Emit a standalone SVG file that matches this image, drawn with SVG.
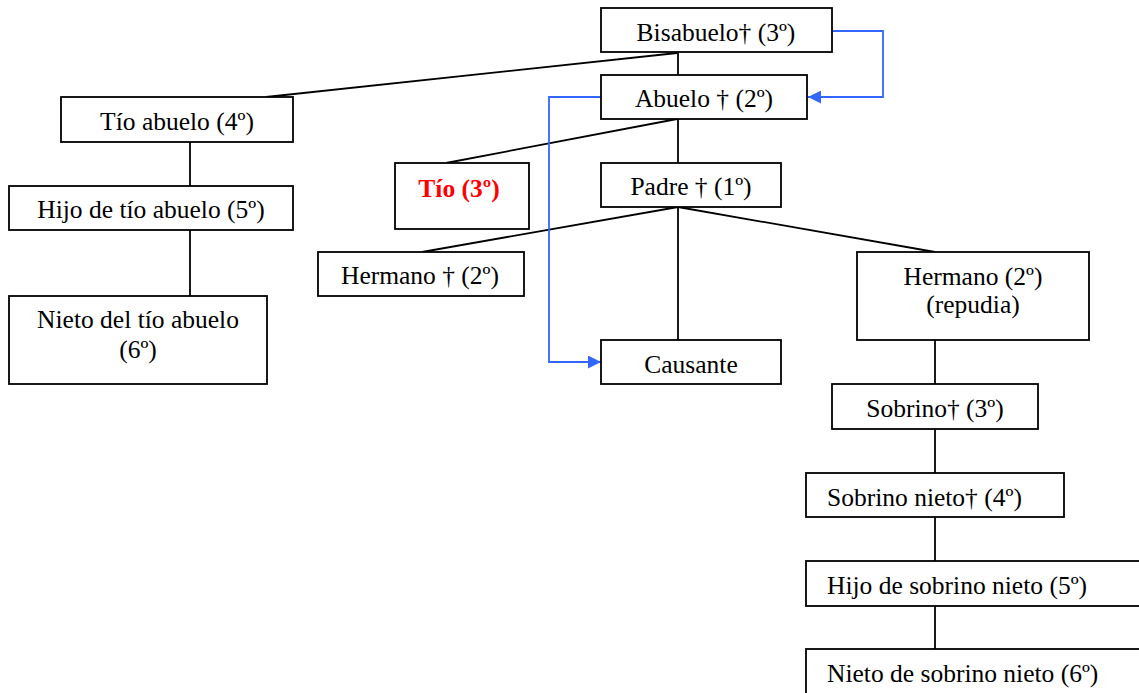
<svg xmlns="http://www.w3.org/2000/svg" width="1139" height="693" viewBox="0 0 1139 693">
<defs>
<style>
.box{fill:#fff;stroke:#000;stroke-width:1.8}
.t{font-family:"Liberation Serif","Times New Roman",serif;font-size:25.5px;fill:#000;text-anchor:middle}
.s{text-anchor:start}
.red{fill:#ff0000;font-weight:bold}
.ln{stroke:#000;stroke-width:1.8;fill:none}
.bl{stroke:#3366ff;stroke-width:1.8;fill:none}
</style>
<marker id="ah" viewBox="0 0 10 10" refX="10" refY="5" markerWidth="15" markerHeight="13" markerUnits="userSpaceOnUse" orient="auto">
<path d="M0,0 L10,5 L0,10 Z" fill="#3366ff"/>
</marker>
</defs>
<rect width="1139" height="693" fill="#fff"/>
<g id="connectors">
<line class="ln" x1="678" y1="52" x2="678" y2="75"/>
<line class="ln" x1="678" y1="119" x2="678" y2="163"/>
<line class="ln" x1="677" y1="53" x2="266" y2="97"/>
<line class="ln" x1="190" y1="142" x2="190" y2="186"/>
<line class="ln" x1="190" y1="230" x2="190" y2="296"/>
<line class="ln" x1="677" y1="119" x2="446" y2="163"/>
<line class="ln" x1="678" y1="207" x2="422" y2="252"/>
<line class="ln" x1="678" y1="207" x2="678" y2="340"/>
<line class="ln" x1="678" y1="207" x2="935" y2="252"/>
<line class="ln" x1="935" y1="340" x2="935" y2="384"/>
<line class="ln" x1="935" y1="429" x2="935" y2="473"/>
<line class="ln" x1="935" y1="517" x2="935" y2="561"/>
<line class="ln" x1="935" y1="606" x2="935" y2="649"/>
<polyline class="bl" points="832,31 883,31 883,97 808,97" marker-end="url(#ah)"/>
<polyline class="bl" points="601,97 549,97 549,362 601,362" marker-end="url(#ah)"/>
</g>
<g id="bisabuelo"><rect class="box" x="601" y="8" width="231" height="44"/><text class="t" x="716" y="41">Bisabuelo† (3º)</text></g>
<g id="abuelo"><rect class="box" x="601" y="75" width="206" height="44"/><text class="t" x="704" y="107">Abuelo † (2º)</text></g>
<g id="padre"><rect class="box" x="601" y="163" width="180" height="44"/><text class="t" x="691" y="195">Padre † (1º)</text></g>
<g id="tio-abuelo"><rect class="box" x="61" y="97" width="232" height="45"/><text class="t" x="177" y="130">Tío abuelo (4º)</text></g>
<g id="hijo-tio-abuelo"><rect class="box" x="9" y="186" width="284" height="44"/><text class="t" x="151" y="218">Hijo de tío abuelo (5º)</text></g>
<g id="nieto-tio-abuelo"><rect class="box" x="9" y="296" width="258" height="88"/><text class="t" x="138" y="328">Nieto del tío abuelo</text><text class="t" x="138" y="358">(6º)</text></g>
<g id="tio"><rect class="box" x="395" y="163" width="134" height="66"/><text class="t red" x="459" y="197">Tío (3º)</text></g>
<g id="hermano-fallecido"><rect class="box" x="318" y="252" width="206" height="44"/><text class="t" x="420" y="284">Hermano † (2º)</text></g>
<g id="causante"><rect class="box" x="601" y="340" width="180" height="44"/><text class="t" x="691" y="373">Causante</text></g>
<g id="hermano-repudia"><rect class="box" x="857" y="252" width="232" height="88"/><text class="t" x="973" y="285">Hermano (2º)</text><text class="t" x="973" y="313">(repudia)</text></g>
<g id="sobrino"><rect class="box" x="832" y="384" width="206" height="45"/><text class="t" x="935" y="417">Sobrino† (3º)</text></g>
<g id="sobrino-nieto"><rect class="box" x="806" y="473" width="258" height="44"/><text class="t s" x="827" y="506">Sobrino nieto† (4º)</text></g>
<g id="hijo-sobrino-nieto"><rect class="box" x="806" y="561" width="345" height="45"/><text class="t s" x="827" y="594">Hijo de sobrino nieto (5º)</text></g>
<g id="nieto-sobrino-nieto"><rect class="box" x="806" y="649" width="345" height="60"/><text class="t s" x="827" y="682">Nieto de sobrino nieto (6º)</text></g>
</svg>
